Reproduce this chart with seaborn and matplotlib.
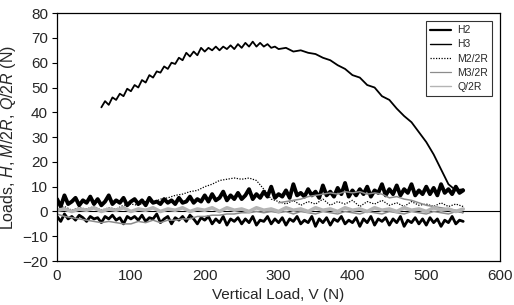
import matplotlib
matplotlib.use("Agg")
import matplotlib.pyplot as plt
import seaborn as sns

sns.set_style("white")
plt.rcParams["font.family"] = ["Liberation Sans", "DejaVu Sans"]
plt.rcParams["mathtext.fontset"] = "custom"
plt.rcParams["mathtext.rm"] = "Liberation Sans"
plt.rcParams["mathtext.it"] = "Liberation Sans:italic"

# fine vertical load grid for H2 (N), 5 N steps from 0 to 550
v_fine = [0, 5, 10, 15, 20, 25, 30, 35, 40, 45, 50,
          55, 60, 65, 70, 75, 80, 85, 90, 95, 100,
          105, 110, 115, 120, 125, 130, 135, 140, 145, 150,
          155, 160, 165, 170, 175, 180, 185, 190, 195, 200,
          205, 210, 215, 220, 225, 230, 235, 240, 245, 250,
          255, 260, 265, 270, 275, 280, 285, 290, 295, 300,
          305, 310, 315, 320, 325, 330, 335, 340, 345, 350,
          355, 360, 365, 370, 375, 380, 385, 390, 395, 400,
          405, 410, 415, 420, 425, 430, 435, 440, 445, 450,
          455, 460, 465, 470, 475, 480, 485, 490, 495, 500,
          505, 510, 515, 520, 525, 530, 535, 540, 545, 550]

# H2: loading branch (upper band) and unloading branch (lower band)
h2_up = [5, 2, 6.5, 3, 4, 5.5, 2.5, 4.5, 3.5, 6, 3,
         5, 2.5, 4, 6.5, 3, 4.5, 3.5, 5.5, 2.5, 4,
         5, 3, 4.5, 2.5, 5.5, 3.5, 4, 3, 5, 3.5,
         4.5, 3, 5.5, 3.5, 4, 6, 3.5, 5, 4, 6.5,
         4, 7, 4.5, 5.5, 8, 4.5, 6.5, 5, 7.5, 5,
         6.5, 9, 5, 7, 5.5, 8, 6, 10, 5.5, 7,
         6, 8.5, 5.5, 11, 6.5, 7.5, 6, 9, 6.5, 8,
         5.5, 10.5, 6.5, 8, 6, 9.5, 7, 11.5, 6, 8.5,
         6.5, 9, 7, 10, 6, 8.5, 7.5, 11, 6.5, 9,
         7, 10.5, 6.5, 9, 7.5, 11, 6.5, 8.5, 7, 10,
         7, 9.5, 6.5, 11, 7.5, 9, 7, 10, 7.5, 8.5]
h2_down = [-2, -4, -1, -3, -2, -3.5, -1.5, -2.5, -4, -2, -3,
           -2.5, -4.5, -2, -3, -1.5, -3.5, -2.5, -5, -2, -3,
           -2, -3.5, -1.5, -4, -2.5, -3, -1, -4.5, -3, -2,
           -5, -2.5, -3.5, -2, -4, -1.5, -3, -5, -2.5, -3.5,
           -2, -5, -3, -4.5, -2, -5.5, -3, -4, -2.5, -5,
           -3, -4.5, -2, -5.5, -3.5, -4, -2, -5, -3, -4.5,
           -2.5, -5.5, -3, -4, -2, -5, -3.5, -4.5, -2, -6,
           -3, -4.5, -2.5, -5.5, -3, -4, -2, -5, -3.5, -4.5,
           -2.5, -6, -3, -4.5, -2, -5.5, -3, -4, -2.5, -5.5,
           -3, -4.5, -2, -6, -3.5, -4.5, -2.5, -5, -3, -5.5,
           -2.5, -4.5, -3, -6, -3.5, -4.5, -2, -5, -3.5, -4]

# H3: large arch
v_h3 = [60, 65, 70, 75, 80, 85, 90, 95, 100, 105, 110, 115, 120, 125, 130, 135,
        140, 145, 150, 155, 160, 165, 170, 175, 180, 185, 190, 195, 200, 205,
        210, 215, 220, 225, 230, 235, 240, 245, 250, 255, 260, 265, 270, 275,
        280, 285, 290, 295, 300, 310, 320, 330, 340, 350, 360, 370, 380, 390,
        400, 410, 420, 430, 440, 450, 460, 470, 480, 490, 500, 510, 520, 530,
        540, 550]
h3 = [42, 44.5, 43, 46, 45, 47.5, 46.5, 49.5, 48.5, 51, 50, 53, 52, 55, 54, 56.5,
      56, 58.5, 57.5, 60, 59.5, 62, 61, 64, 62.5, 64.5, 63, 66, 64.5, 66,
      65, 66.5, 65, 66.5, 65.5, 67, 65.5, 67.5, 66, 68, 66.5, 68.5, 66.5, 68,
      66.5, 67.5, 66, 66.5, 65.5, 66, 64.5, 65, 64, 63.5, 62, 61, 59, 57.5,
      55, 54, 51, 50, 46.5, 45, 41.5, 38.5, 36, 32, 28, 23, 17, 11,
      8.5, 9]

# coarse grid for the moment and shear series (N)
v_band = [0, 10, 20, 30, 40, 50, 60, 70, 80, 90, 100, 110, 120, 130, 140, 150,
          160, 170, 180, 190, 200, 210, 220, 230, 240, 250, 260, 270, 280, 290,
          300, 310, 320, 330, 340, 350, 360, 370, 380, 390, 400, 410, 420, 430,
          440, 450, 460, 470, 480, 490, 500, 510, 520, 530, 540, 550]

# M2/2R: hump between 150 and 280 N
m2 = [1, 2, 0.5, 1.5, 1, 2, 0.5, 1.5, 1, 2.5, 3, 2.5, 4, 3.5, 5, 5.5,
      6.5, 7, 8, 8.5, 10, 11, 12.5, 13, 13.5, 13, 13.5, 12.5, 9, 5,
      4, 3, 4.5, 2.5, 4, 3, 5, 2.5, 4, 3, 4.5, 2, 4, 3, 4.5, 2.5,
      3.5, 2, 4, 2.5, 3, 2, 3.5, 2, 3, 2]

# M3/2R: loading branch plus partial unloading branch
m3_up = [-1, -2, -2.5, -3, -3.5, -4, -4.5, -4, -4.5, -5, -5, -4, -4.5, -3.5, -4.5, -3.5,
         -3.5, -3, -3, -2, -2, -1.5, -1.5, -1, -1, -0.5, -0.5, 0, -0.5, 0,
         -0.5, 0, -1, 0, -0.5, -1, 0, -0.5, -1, 0, -0.5, -1, 0, -0.5,
         -1, 0, -0.5, -1, 0, -0.5, -1, 0, -0.5, -1, 0, -0.5]
v_m3_back = [540, 530, 520, 510, 500, 490, 480, 470, 460, 450, 440, 430, 420,
             410, 400, 390, 380, 370, 360, 350, 340, 330, 320, 310, 300]
m3_back = [0.5, 1, 1.5, 2, 2.5, 3.5, 4.5, 5, 6, 5.5, 7, 7.5, 7,
           8, 7.5, 8, 7, 7.5, 7, 6.5, 6, 5, 4.5, 4, 3.5]

# Q/2R: close to zero throughout
q = [0.5, 1, 0, 1, 0.5, 1.5, 0, 1, 0.5, 1.5, 0, 1, 0.5, 1.5, 0, 1,
     0.5, 1.5, 0, 1, 0.5, 1.5, 0, 1.5, 0.5, 1, 0, 1.5, 0.5, 1,
     0, 1.5, 0.5, 1, 0, 1.5, 0.5, 1, 0, 1.5, 0.5, 1, 0, 1.5,
     0.5, 1, 0, 1.5, 0.5, 1, 0, 1.5, 0.5, 1, 0, 1]

fig = plt.figure(figsize=(5.14, 3.05), dpi=100)
ax = fig.add_axes([0.111, 0.144, 0.862, 0.813])

ax.axhline(0, color="black", lw=0.8, zorder=1)

sns.lineplot(x=v_fine, y=h2_up, sort=False, estimator=None, color="black",
             lw=2.8, label="H2", ax=ax)
sns.lineplot(x=v_fine, y=h2_down, sort=False, estimator=None, color="black",
             lw=2.0, ax=ax)
sns.lineplot(x=v_h3, y=h3, sort=False, estimator=None, color="black",
             lw=1.3, label="H3", ax=ax)
sns.lineplot(x=v_band, y=m2, sort=False, estimator=None, color="black",
             lw=0.9, ls=(0, (1, 1.2)), label="M2/2R", ax=ax)
sns.lineplot(x=v_band + v_m3_back, y=m3_up + m3_back, sort=False,
             estimator=None, color="#8c8c8c", lw=1.1, label="M3/2R", ax=ax)
sns.lineplot(x=v_band, y=q, sort=False, estimator=None, color="#b4b4b4",
             lw=2.6, label="Q/2R", ax=ax)

ax.set_xlim(0, 600)
ax.set_ylim(-20, 80)
ax.set_xticks([0, 100, 200, 300, 400, 500, 600])
ax.set_yticks([-20, -10, 0, 10, 20, 30, 40, 50, 60, 70, 80])
ax.tick_params(axis="y", direction="out", length=3.5, width=0.8,
               color="black", labelsize=11, pad=3, left=True)
ax.tick_params(axis="x", length=0, labelsize=11, pad=6)
for s in ax.spines.values():
    s.set_color("black")
    s.set_linewidth(0.9)

ax.set_xlabel("Vertical Load, V (N)", fontsize=11, labelpad=3)
ax.set_ylabel(r"Loads, $\mathit{H}$, $\mathit{M/2R}$, $\mathit{Q/2R}$ (N)",
              fontsize=11.5, labelpad=3)

leg = ax.legend(loc="upper right", bbox_to_anchor=(0.982, 0.968),
                borderaxespad=0, fontsize=7.5, frameon=True, fancybox=False,
                edgecolor="black", handlelength=2.0, handletextpad=0.6,
                labelspacing=0.4, borderpad=0.4)
leg.get_frame().set_linewidth(0.8)
for line, w in zip(leg.get_lines(), [1.6, 1.0, 0.9, 0.9, 1.0]):
    line.set_linewidth(w)

fig.savefig("out.png", dpi=100)
